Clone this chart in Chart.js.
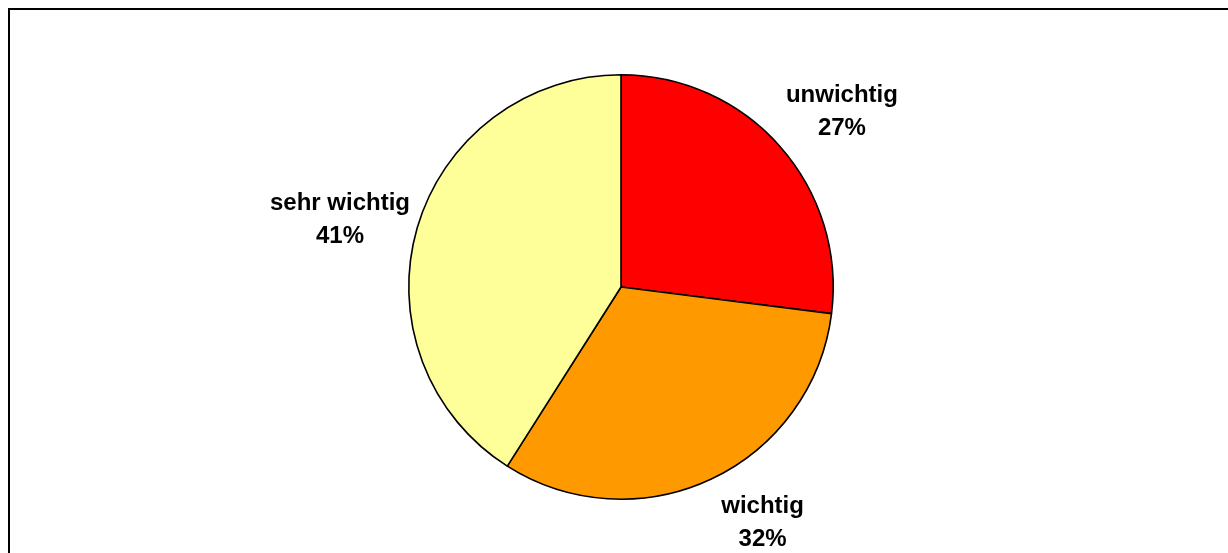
<!DOCTYPE html>
<html>
<head>
<meta charset="utf-8">
<script src="https://cdn.jsdelivr.net/npm/chart.js@4.4.1/dist/chart.umd.min.js"></script>
<style>
  html, body { margin: 0; padding: 0; background: #fff; overflow: hidden; }
  #frame {
    position: absolute; left: 8px; top: 8px;
    width: 1400px; height: 800px;
    border: 2px solid #000;
  }
  #wrap { position: absolute; left: 0; top: 0; width: 1228px; height: 553px; }
</style>
</head>
<body>
<div id="frame"></div>
<div id="wrap"><canvas id="pieChart"></canvas></div>
<script>
// Anteile der Antworten, im Uhrzeigersinn ab 12 Uhr
var categories = ['unwichtig', 'wichtig', 'sehr wichtig'];
var shares = [27, 32, 41];
var sliceColors = ['#FF0000', '#FF9900', '#FFFF99'];

// Beschriftung außerhalb der Tortenstücke: Name + Prozentwert
var outsideLabels = {
    id: 'outsideLabels',
    afterDatasetsDraw: function (chart, args, opts) {
        var ctx = chart.ctx;
        var meta = chart.getDatasetMeta(0);
        var total = shares.reduce((a, b) => a + b, 0);
        var fontSize = opts.size;
        var lineHeight = opts.lineHeight;
        var gap = opts.gap;
        ctx.save();
        ctx.font = 'bold ' + fontSize + 'px "Liberation Sans", Arial, sans-serif';
        ctx.fillStyle = '#000';
        ctx.textAlign = 'center';
        ctx.textBaseline = 'alphabetic';
        meta.data.forEach(function (arc, i) {
            var p = arc.getProps(['x', 'y', 'startAngle', 'endAngle', 'outerRadius'], true);
            var mid = (p.startAngle + p.endAngle) / 2;
            var ux = Math.cos(mid), uy = Math.sin(mid);
            var line1 = categories[i];
            var line2 = Math.round(shares[i] / total * 100) + '%';
            var w = Math.max(ctx.measureText(line1).width, ctx.measureText(line2).width);
            var h = lineHeight + fontSize * 0.72;
            var shift = opts.nudge[i] || [0, 0];
            var cx = p.x + (p.outerRadius + gap) * ux + w / 2 * ux + shift[0];
            var cy = p.y + (p.outerRadius + gap) * uy + h / 2 * uy + shift[1];
            var top = cy - h / 2 + fontSize * 0.72;
            ctx.fillText(line1, cx, top);
            ctx.fillText(line2, cx, top + lineHeight);
        });
        ctx.restore();
    }
};

var ctx = document.getElementById('pieChart').getContext('2d');
var pieChart = new Chart(ctx, {
    type: 'pie',
    plugins: [outsideLabels],
    data: {
        labels: categories,
        datasets: [{
            data: shares,
            backgroundColor: sliceColors,
            borderColor: '#000',
            borderWidth: 1.6,
            borderAlign: 'center'
        }]
    },
    options: {
        responsive: true,
        maintainAspectRatio: false,
        animation: false,
        layout: {
            padding: { left: 408, right: 394, top: 74, bottom: 53 }
        },
        plugins: {
            legend: { display: false },
            tooltip: { enabled: false },
            outsideLabels: {
                size: 24,
                lineHeight: 33,
                gap: 25,
                // manuell verschobene Beschriftungen
                nudge: [[1, -4], [23, -4], [14, 4]]
            }
        }
    }
});
</script>
</body>
</html>
